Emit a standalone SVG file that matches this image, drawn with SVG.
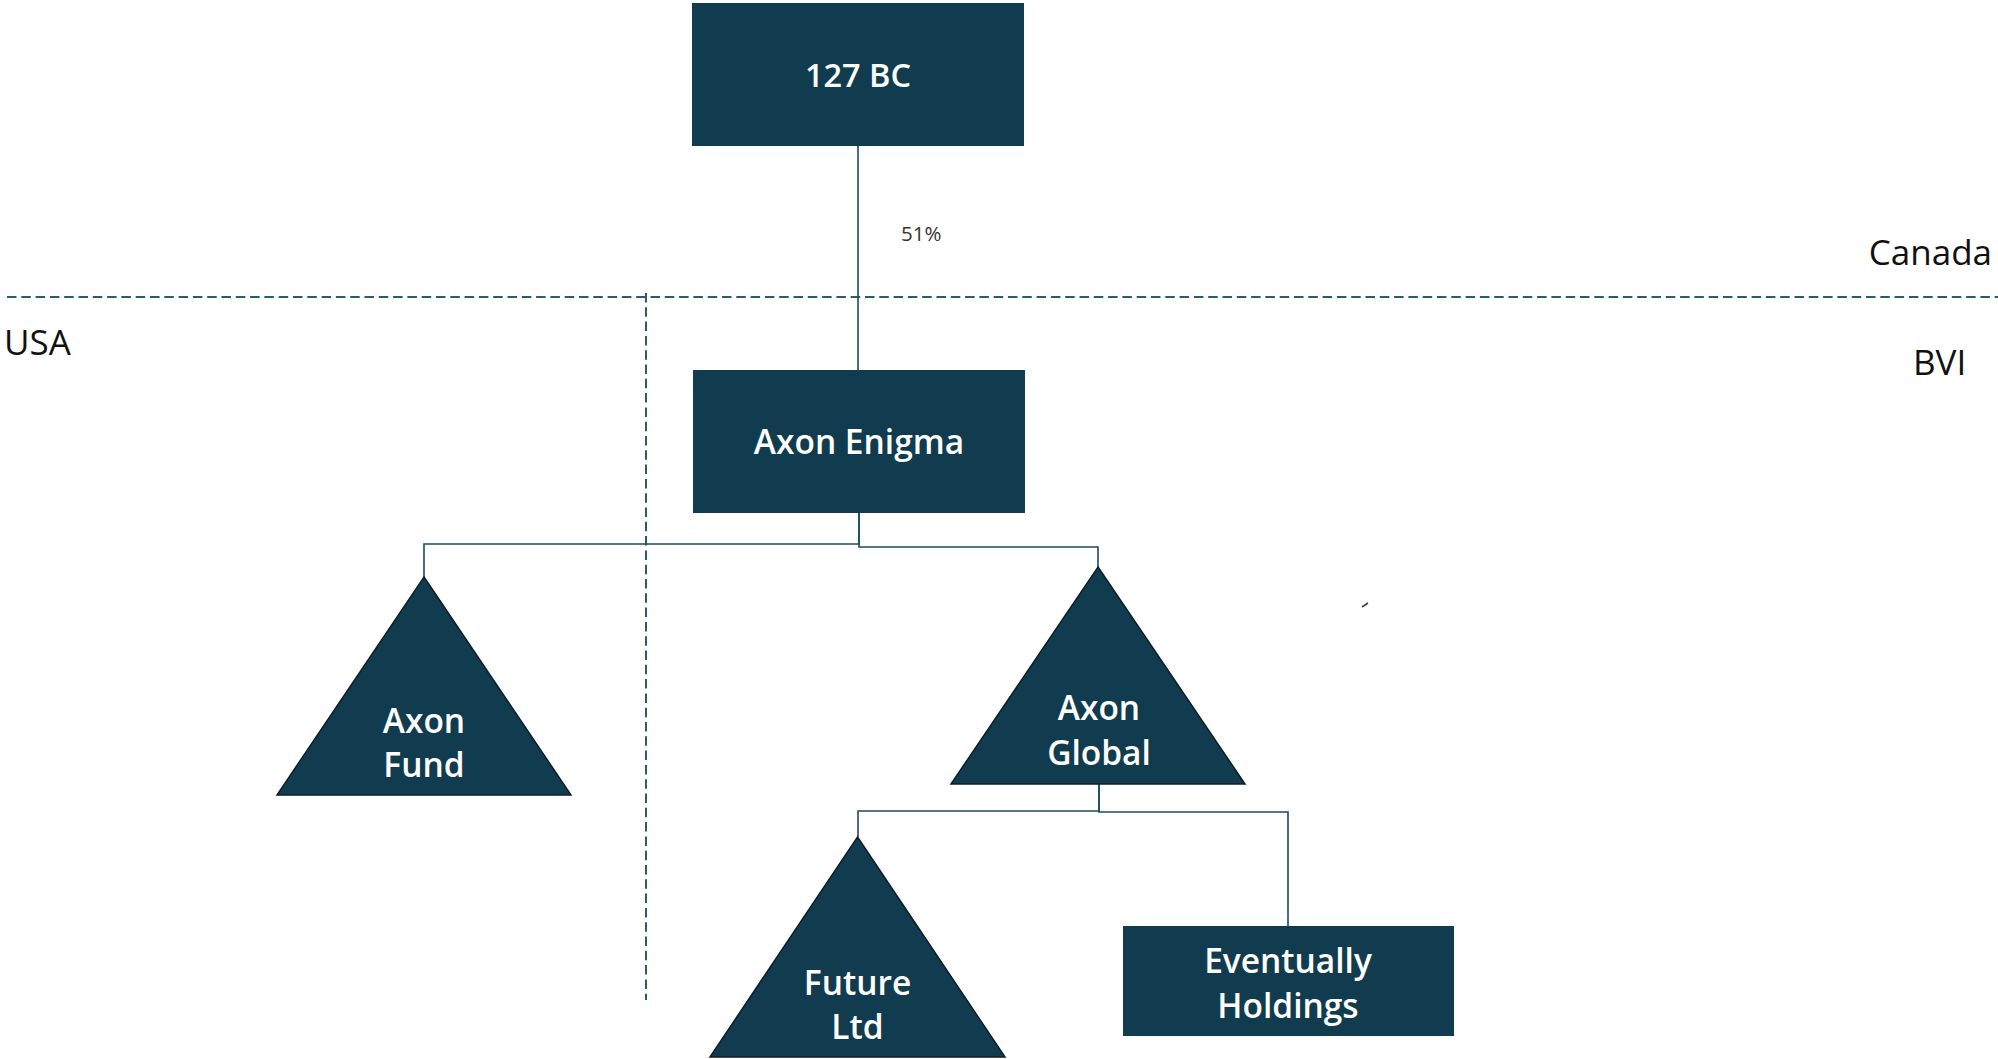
<svg xmlns="http://www.w3.org/2000/svg" width="1998" height="1059" viewBox="0 0 1998 1059">
<style>
.node{fill:#113c4f}
.tri{fill:#113c4f;stroke:#0b1e27;stroke-width:1.5;stroke-linejoin:miter}
.lbl{fill:#ffffff;font-family:"Open Sans","Noto Sans",sans-serif;font-weight:600;font-size:33.5px;text-anchor:middle}
.conn{fill:none;stroke:#1f4a5e;stroke-width:1.6}
.dash{fill:none;stroke:#2e5a70;stroke-width:2;stroke-dasharray:9.5 4.8}
.region{fill:#111111;font-family:"Open Sans","Noto Sans",sans-serif;font-size:35px}
.pct{fill:#333333;font-family:"Open Sans","Noto Sans",sans-serif;font-size:20.5px}
</style>
<rect width="1998" height="1059" fill="#ffffff"/>
<g id="regions">
<path class="dash" d="M7,297 H1998"/>
<path class="dash" d="M646,293 V1000"/>
<text class="region" x="1992" y="265" text-anchor="end">Canada</text>
<text class="region" x="1913" y="375">BVI</text>
<text class="region" x="4" y="355">USA</text>
</g>
<g id="connectors">
<path class="conn" d="M858,146 V370"/>
<path class="conn" d="M859,513 V544 H424 V577"/>
<path class="conn" d="M859,513 V547 H1098 V567"/>
<path class="conn" d="M1099,784 V811 H858 V837"/>
<path class="conn" d="M1099,784 V812 H1288 V926"/>
<text class="pct" x="901" y="241">51%</text>
<path class="conn" d="M1362,607 L1368,603"/>
</g>
<g id="node-127bc">
<rect class="node" x="692" y="3" width="332" height="143"/>
<text class="lbl" x="858" y="87" style="font-size:32.5px">127 BC</text>
</g>
<g id="node-axon-enigma">
<rect class="node" x="693" y="370" width="332" height="143"/>
<text class="lbl" x="859" y="454">Axon Enigma</text>
</g>
<g id="node-axon-fund">
<polygon class="tri" points="424,577 571,795 277,795"/>
<text class="lbl" x="424" y="733">Axon</text>
<text class="lbl" x="424" y="777">Fund</text>
</g>
<g id="node-axon-global">
<polygon class="tri" points="1098,567 1245,784 951,784"/>
<text class="lbl" x="1099" y="720">Axon</text>
<text class="lbl" x="1099" y="765">Global</text>
</g>
<g id="node-future-ltd">
<polygon class="tri" points="857.5,837 1005,1057 710,1057"/>
<text class="lbl" x="857.5" y="995">Future</text>
<text class="lbl" x="857.5" y="1039">Ltd</text>
</g>
<g id="node-eventually-holdings">
<rect class="node" x="1123" y="926" width="331" height="110"/>
<text class="lbl" x="1288" y="973">Eventually</text>
<text class="lbl" x="1288" y="1018">Holdings</text>
</g>
</svg>
